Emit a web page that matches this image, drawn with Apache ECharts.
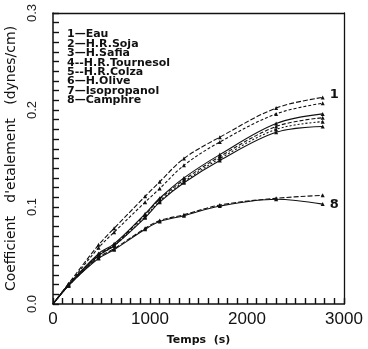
<!DOCTYPE html>
<html>
<head>
<meta charset="utf-8">
<script src="https://cdn.jsdelivr.net/npm/echarts@6/dist/echarts.min.js"></script>
<style>
  html, body { margin: 0; padding: 0; background: #fff; }
  #chart { width: 368px; height: 349px; }
</style>
</head>
<body>
<div id="chart"></div>
<script>
// Spreading coefficient vs. time for eight liquids
const times = [0, 160, 470, 630, 950, 1100, 1350, 1720, 2300, 2780];

const seriesNames = [
  '1\u2014Eau',
  '2\u2014H.R.Soja',
  '3\u2014H.Safia',
  '4--H.R.Tournesol',
  '5--H.R.Colza',
  '6\u2014H.Olive',
  '7\u2014Isopropanol',
  '8\u2014Camphre'
];

const eau         = [0, 0.021, 0.061, 0.078, 0.111, 0.126, 0.150, 0.172, 0.202, 0.213];
const soja        = [0, 0.020, 0.058, 0.074, 0.105, 0.119, 0.143, 0.167, 0.196, 0.207];
const safia       = [0, 0.020, 0.052, 0.062, 0.093, 0.109, 0.130, 0.154, 0.186, 0.196];
const tournesol   = [0, 0.020, 0.051, 0.061, 0.092, 0.108, 0.128, 0.152, 0.183, 0.192];
const colza       = [0, 0.019, 0.050, 0.060, 0.090, 0.106, 0.126, 0.150, 0.180, 0.188];
const olive       = [0, 0.019, 0.050, 0.060, 0.089, 0.105, 0.125, 0.148, 0.177, 0.183];
const isopropanol = [0, 0.019, 0.048, 0.057, 0.078, 0.086, 0.092, 0.102, 0.109, 0.112];
const camphre     = [0, 0.019, 0.047, 0.056, 0.077, 0.085, 0.091, 0.101, 0.108, 0.103];

const xTicks = [0, 1000, 2000, 3000];
const yTicks = [0.0, 0.1, 0.2, 0.3];

const allValues = [eau, soja, safia, tournesol, colza, olive, isopropanol, camphre];
const dashes = [[5, 2], [3, 2], 'solid', [4, 2], [2, 2], 'solid', [5, 2], 'solid'];
const endTags = ['1', null, null, null, null, null, null, '8'];

const SANS = 'DejaVu Sans';
const LAB = 'Liberation Sans';
const INK = '#111';
const TICK_LEN = 6;

// plot box
const BOX = { left: 53, right: 24, top: 13, bottom: 45 };

const series = allValues.map((vals, i) => ({
  name: seriesNames[i],
  type: 'line',
  xAxisIndex: 0,
  yAxisIndex: 0,
  smooth: 0.35,
  symbol: 'triangle',
  symbolSize: 4,
  color: INK,
  z: 3,
  lineStyle: { color: INK, width: 1.1, type: dashes[i] },
  itemStyle: { color: INK },
  data: vals.map((v, k) => k === 0
    ? { value: [times[k], v], symbolSize: 0 }
    : [times[k], v]),
  endLabel: endTags[i] ? {
    show: true,
    formatter: endTags[i],
    fontFamily: SANS,
    fontSize: 13,
    fontWeight: 'bold',
    color: INK,
    distance: 7,
    offset: [0, i === 0 ? -3 : 1]
  } : { show: false },
  animation: false
}));

// frame lines on the top and right sides of the plot
const frameAxis = {
  show: true,
  axisLine: { show: true, onZero: false, lineStyle: { color: INK, width: 1.3 } },
  axisTick: { show: false },
  axisLabel: { show: false },
  splitLine: { show: false }
};

// fine tick marks: axes of two helper grids set TICK_LEN px inside the plot box,
// whose outward ticks reach back onto the main axis lines
const fineTickAxis = {
  show: true,
  axisLine: { show: true, onZero: false, lineStyle: { color: 'rgba(0,0,0,0)', width: 0 } },
  axisTick: { show: true, inside: false, length: TICK_LEN, lineStyle: { color: INK, width: 1.4 } },
  axisLabel: { show: false },
  splitLine: { show: false }
};
const hiddenAxis = { show: false, splitLine: { show: false } };

const chart = echarts.init(document.getElementById('chart'), null, { renderer: 'canvas' });

chart.setOption({
  backgroundColor: '#ffffff',
  animation: false,
  tooltip: { show: false },
  grid: [
    Object.assign({ show: false, containLabel: false, outerBoundsMode: 'none' }, BOX),
    Object.assign({ show: false, containLabel: false, outerBoundsMode: 'none' }, BOX,
      { bottom: BOX.bottom + TICK_LEN }),
    Object.assign({ show: false, containLabel: false, outerBoundsMode: 'none' }, BOX,
      { left: BOX.left + TICK_LEN })
  ],
  legend: {
    orient: 'vertical',
    left: 57, top: 24,
    icon: 'none',
    itemWidth: 0,
    itemHeight: 9.4,
    itemGap: -1.6,
    selectedMode: false,
    data: seriesNames,
    textStyle: {
      fontFamily: SANS, fontSize: 11, fontWeight: 'bold',
      color: INK
    }
  },
  xAxis: [
    {
      gridIndex: 0,
      type: 'value',
      min: 0, max: 3000, interval: 1000,
      name: 'Temps  (s)',
      nameLocation: 'middle',
      nameGap: 31,
      nameTextStyle: { fontFamily: SANS, fontSize: 11, fontWeight: 'bold', color: INK },
      axisLine: { show: true, onZero: false, lineStyle: { color: INK, width: 1.5 } },
      axisTick: { show: false },
      splitLine: { show: false },
      axisLabel: {
        fontFamily: LAB, fontSize: 17, color: INK, margin: 7,
        formatter: v => xTicks.includes(v) ? String(v) : ''
      }
    },
    Object.assign({ gridIndex: 0, type: 'value', position: 'top', min: 0, max: 3000 }, frameAxis),
    Object.assign({ gridIndex: 1, type: 'value', position: 'bottom', min: 0, max: 3000, interval: 100 }, fineTickAxis),
    Object.assign({ gridIndex: 2, type: 'value', min: 0, max: 3000 }, hiddenAxis)
  ],
  yAxis: [
    {
      gridIndex: 0,
      type: 'value',
      min: 0, max: 0.3, interval: 0.1,
      name: "Coefficient   d'etalement   (dynes/cm)",
      nameLocation: 'middle',
      nameGap: 20,
      nameTextStyle: { fontFamily: SANS, fontSize: 14, color: INK },
      axisLine: { show: true, onZero: false, lineStyle: { color: INK, width: 1.5 } },
      axisTick: { show: false },
      splitLine: { show: false },
      axisLabel: {
        fontFamily: LAB, fontSize: 13, color: '#222', rotate: 90, margin: 14,
        formatter: v => {
          const hit = yTicks.find(t => Math.abs(t - v) < 1e-6);
          return hit === undefined ? '' : hit.toFixed(1);
        }
      }
    },
    Object.assign({ gridIndex: 0, type: 'value', position: 'right', min: 0, max: 0.3 }, frameAxis),
    Object.assign({ gridIndex: 1, type: 'value', min: 0, max: 0.3 }, hiddenAxis),
    Object.assign({ gridIndex: 2, type: 'value', position: 'left', min: 0, max: 0.3, interval: 0.01 }, fineTickAxis)
  ],
  series: series
});
</script>
</body>
</html>
